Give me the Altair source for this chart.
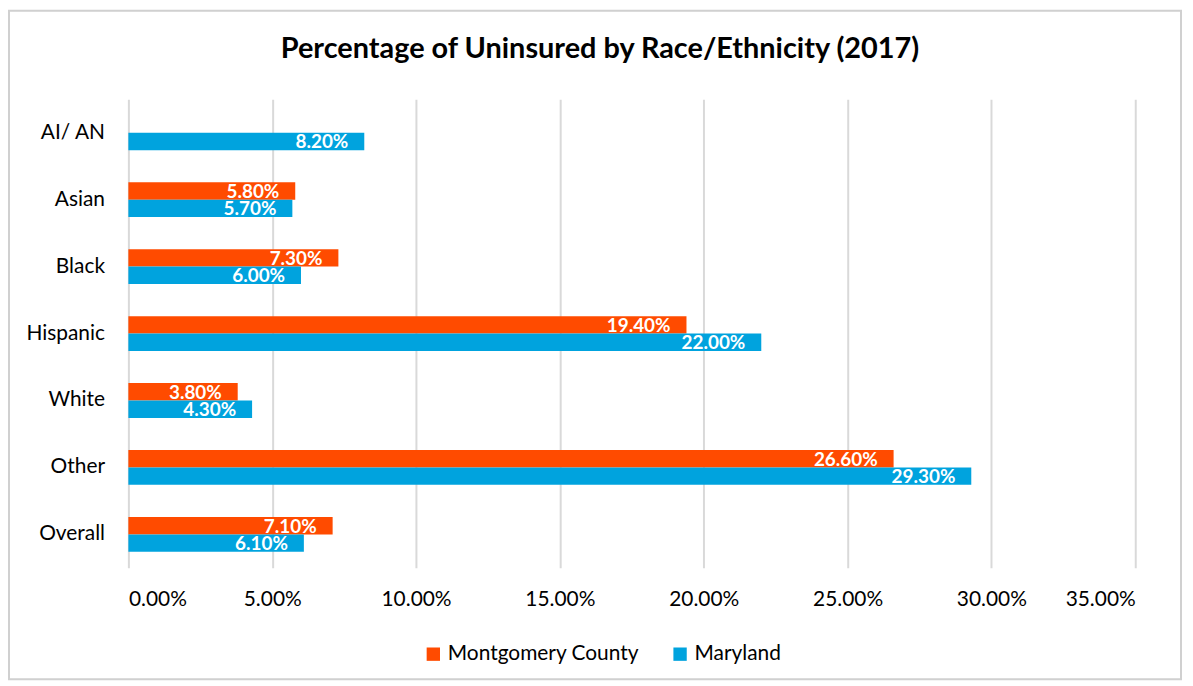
import altair as alt
import pandas as pd

categories = ["AI/ AN", "Asian", "Black", "Hispanic", "White", "Other", "Overall"]
montgomery = [None, 5.8, 7.3, 19.4, 3.8, 26.6, 7.1]
maryland = [8.2, 5.7, 6.0, 22.0, 4.3, 29.3, 6.1]
series = ["Montgomery County", "Maryland"]
colors = ["#FF4B00", "#00A3DE"]
x_ticks = [0, 0.05, 0.10, 0.15, 0.20, 0.25, 0.30, 0.35]
title_text = "Percentage of Uninsured by Race/Ethnicity (2017)"

rows = []
for c, m, md in zip(categories, montgomery, maryland):
    rows.append({"cat": c, "series": series[0], "value": None if m is None else m / 100})
    rows.append({"cat": c, "series": series[1], "value": md / 100})
df = pd.DataFrame(rows).dropna()

FONT = "Lato"

base = alt.Chart(df).encode(
    y=alt.Y("cat:N", sort=categories, title=None,
            scale=alt.Scale(paddingInner=0.48, paddingOuter=0.24),
            axis=alt.Axis(domain=False, ticks=False, labelFontSize=21, labelPadding=24,
                          labelColor="#000000", labelFont=FONT)),
    yOffset=alt.YOffset("series:N", sort=series, scale=alt.Scale(paddingInner=0)),
    x=alt.X("value:Q", title=None,
            scale=alt.Scale(domain=[0, 0.35], nice=False),
            axis=alt.Axis(values=x_ticks, format=".2%", domain=False, ticks=False,
                          grid=True, gridColor="#d9d9d9", gridWidth=2,
                          labelFontSize=21, labelPadding=21, labelColor="#000000",
                          labelFont=FONT)),
)

bars = base.mark_bar().encode(
    color=alt.Color("series:N", sort=series,
                    scale=alt.Scale(domain=series, range=colors),
                    legend=alt.Legend(title=None, orient="none", direction="horizontal",
                                      legendX=296, legendY=547, symbolType="square",
                                      symbolSize=180, symbolStrokeWidth=0,
                                      labelFontSize=21, labelFont=FONT, labelLimit=0,
                                      labelColor="#000000", columnPadding=30,
                                      symbolOpacity=1))
)

labels = base.mark_text(align="right", baseline="middle", dx=-16, dy=1, color="white",
                        fontWeight="bold", fontSize=19, font=FONT).encode(
    text=alt.Text("value:Q", format=".2%")
)

one = pd.DataFrame({"t": [title_text]})
border = alt.Chart(one).mark_rect(fill="white", fillOpacity=0, stroke="#d0d0d0",
                                  strokeWidth=2).encode(
    x=alt.value(-120), x2=alt.value(1058), y=alt.value(-89), y2=alt.value(583)
)
title = alt.Chart(one).mark_text(fontSize=29, fontWeight="bold", font=FONT,
                                 color="#000000", baseline="middle", align="center").encode(
    x=alt.value(474), y=alt.value(-50), text="t:N"
)

chart = alt.layer(border, bars, labels, title).properties(
    width=1012, height=471,
    autosize=alt.AutoSizeParams(type="none"),
    padding={"left": 121, "top": 90, "right": 50, "bottom": 112},
).configure_view(stroke=None)

chart.save("out.html", embed_options={"renderer": "svg", "actions": False})
